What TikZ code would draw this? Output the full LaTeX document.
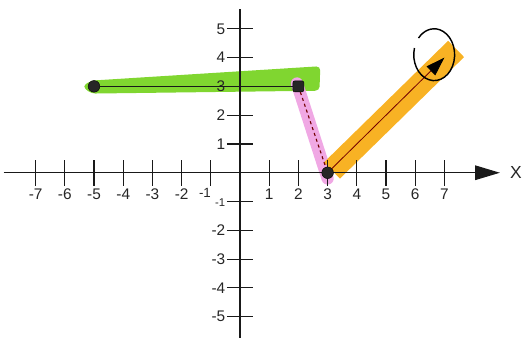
\documentclass[tikz,border=0pt]{standalone}
\usepackage{fontspec}
\setmainfont{Liberation Sans}
\usetikzlibrary{arrows.meta, positioning, calc}

\definecolor{hlgreen}{RGB}{128,214,48}
\definecolor{hlpink}{RGB}{240,168,228}
\definecolor{hlorange}{RGB}{248,178,36}

\begin{document}
\begin{tikzpicture}[
        x=1cm, y=0.986cm,
        axis/.style={
            line width=1.1pt, draw=black!90
        },
        tickline/.style={
            line width=1.1pt, draw=black!90
        },
        numlabel/.style={
            font=\fontsize{15}{15}\selectfont, text=black!85, inner sep=0pt
        },
        dot/.style={
            circle, fill=black!85, draw=black, inner sep=0pt, minimum size=0.4cm
        },
        vec/.style={
            line width=0.8pt, draw=red!45!black
        },
        ring/.style={
            line width=1.4pt, draw=black
        }
    ]
        \useasboundingbox (-8.22,-5.73) rectangle (9.76,6.0);

        % ----------------------------------------------------
        % HIGHLIGHTER BANDS
        % ----------------------------------------------------
        \fill[hlgreen, rounded corners=4pt] (-5.4,3.0) -- (-5.1,3.2) -- (2.75,3.7) -- (2.72,2.85) -- (-5.1,2.75) -- cycle;
        \draw[line width=0.42cm, draw=hlpink, line cap=round] (1.95,3.1) -- (3.0,-0.2);
        \draw[line width=0.78cm, draw=hlorange] (3.15,0.08) -- (7.4,4.3);

        % ----------------------------------------------------
        % AXES
        % ----------------------------------------------------
        \coordinate (xstart) at (-8.1,0);
        \coordinate (xend) at (8.9,0);
        \coordinate (ystart) at (0,-5.8);
        \coordinate (yend) at (0,5.7);
        \draw[axis, -{Triangle[length=0.85cm, width=0.5cm]}] (xstart) -- (xend);
        \draw[axis] (ystart) -- (yend);
        \node[numlabel, font=\fontsize{17}{17}\selectfont] (xname) at (9.45,0) {X};

        \foreach \k in {-7,...,-2,1,2,...,7} {
            \draw[tickline] (\k,-0.45) -- (\k,0.45);
            \node[numlabel, anchor=north] (xl\k) at (\k,-0.55) {\k};
        }
        \draw[tickline] (-1,-0.45) -- (-1,0.45);
        \node[numlabel, font=\fontsize{13}{13}\selectfont, anchor=north] (xl-1) at (-1.2,-0.55) {-1};

        \foreach \k in {-5,...,-2,1,2,...,5} {
            \draw[tickline] (-0.45,\k) -- (0.45,\k);
            \node[numlabel, anchor=east] (yl\k) at (-0.5,\k) {\k};
        }
        \draw[tickline] (-0.45,-1) -- (0.45,-1);
        \node[numlabel, font=\fontsize{11}{11}\selectfont, anchor=east] (yl-1) at (-0.5,-1.05) {-1};

        % ----------------------------------------------------
        % POINTS AND SEGMENTS
        % ----------------------------------------------------
        \node[dot] (pa) at (-5,3) {};
        \node[dot, rectangle, rounded corners=2pt, minimum size=0.38cm] (pb) at (2,3) {};
        \node[dot] (pc) at (3,0) {};
        \coordinate (tip) at (7,4);
        \coordinate (loop) at (6.65,4.1);

        \draw[axis] (pa) -- (pb);
        \draw[vec, dashed, line width=1.1pt] (pb) -- (pc);
        \draw[vec, -{Triangle[length=0.65cm, width=0.42cm, black]}] (pc) -- (tip);
        \draw[ring] (loop) ++(165:0.7 and 0.9) arc[start angle=165, end angle=500, x radius=0.7, y radius=0.9];

    \end{tikzpicture}
\end{document}
